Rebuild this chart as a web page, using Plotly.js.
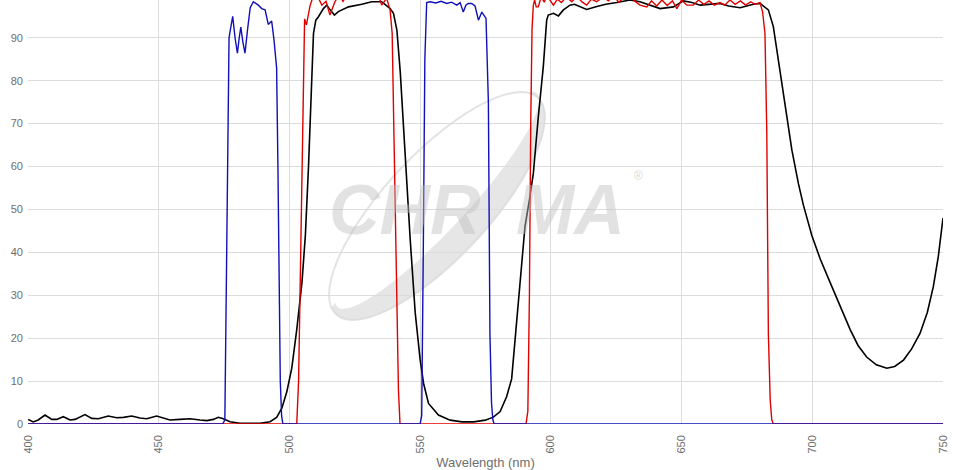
<!DOCTYPE html>
<html>
<head>
<meta charset="utf-8">
<script src="https://cdn.plot.ly/plotly-3.0.1.min.js"></script>
<style>
html,body{margin:0;padding:0;background:#fff;}
#chart{width:957px;height:470px;}
</style>
</head>
<body>
<div id="chart"></div>
<script>
// Wavelength (nm) / transmission (%) readings
var blueX = [400, 474.5, 475.3, 475.8, 476.3, 476.9, 477.3, 478.3, 479.2, 480.1, 480.8, 481.4, 482.2, 483.0, 484.0, 485.0, 486.2, 487.2, 488.1, 489.4, 490.7, 491.9, 493.2, 494.1, 495.1, 495.6, 496.0, 496.5, 497.0, 497.5, 550.0, 550.6, 551.2, 551.8, 552.5, 553.8, 556.0, 558.0, 560.2, 562.0, 564.0, 565.3, 566.5, 567.5, 568.4, 569.7, 571.0, 572.3, 573.6, 575.2, 576.1, 576.7, 577.3, 577.8, 578.3, 750];
var blueY = [0, 0, 1, 30, 70, 90, 91.5, 95, 90, 86.4, 90, 92.5, 89, 86.4, 92, 97, 98.4, 98, 97.6, 96.8, 96.5, 93.1, 93.9, 89.5, 83, 60, 30, 10, 2, 0, 0, 2, 40, 85, 98.2, 98.4, 98.1, 98.5, 98.0, 98.3, 97.6, 98.2, 96, 97.6, 98.0, 98.0, 97.4, 94.1, 96, 94.5, 75, 21, 5, 1, 0, 0];

var redX = [400, 502.8, 503.5, 504.5, 505.3, 505.8, 506.5, 507.9, 509.0, 510.5, 512.4, 514.0, 515.5, 517.4, 519.0, 520.5, 522.0, 524.0, 526.0, 528.0, 530.0, 532.0, 534.0, 535.3, 537.2, 538.5, 539.3, 540.0, 541.0, 541.7, 542.3, 590.5, 591.2, 591.8, 592.3, 592.8, 593.3, 593.8, 594.4, 595.2, 596.3, 597.5, 598.5, 600.0, 601.0, 602.5, 604.0, 606.0, 608.0, 610.0, 612.0, 613.7, 615.5, 617.5, 620.0, 622.0, 624.0, 626.0, 628.0, 630.0, 632.0, 634.1, 636.7, 638.5, 640.5, 642.5, 644.5, 646.5, 648.2, 650.0, 652.0, 654.5, 656.5, 658.5, 660.5, 662.5, 664.7, 666.5, 668.5, 670.5, 672.5, 674.5, 676.5, 678.0, 680.0, 681.0, 681.9, 682.6, 683.2, 683.9, 684.5, 685.1, 750];
var redY = [0, 0, 10, 50, 83, 94.4, 93, 97.5, 99.5, 100, 97.6, 98.5, 95.3, 98.4, 100, 98.5, 100, 99.2, 100.5, 99.3, 100.5, 99.5, 100, 97.6, 99.2, 96.5, 91, 68, 29, 8, 0, 0, 3, 30, 70, 92, 97.6, 98.8, 97.2, 97.2, 99.5, 98.3, 99.8, 98.5, 97.6, 99, 98.2, 99.5, 98.4, 99.6, 98.3, 97.6, 99, 98.4, 99.5, 98.6, 99.7, 98.3, 99.4, 99.8, 98.6, 97.6, 97.2, 98.6, 97.4, 98.8, 97.5, 98.6, 96.8, 98.8, 97.6, 97.6, 98.8, 97.8, 98.6, 97.6, 98.2, 97.6, 98.8, 97.8, 98.6, 97.6, 98.4, 97.8, 98.2, 96, 91, 67.8, 21, 5.6, 1, 0, 0];

var blackX = [400.1, 402.0, 403.9, 406.5, 409.1, 411.0, 413.5, 416.1, 418.0, 421.8, 424.4, 426.9, 430.7, 433.9, 436.5, 439.7, 442.8, 445.4, 449.2, 451.8, 454.3, 458.1, 462.0, 465.8, 468.4, 470.9, 472.8, 474.7, 477.3, 481.1, 485.0, 488.8, 492.6, 495.1, 497.1, 499.0, 500.9, 502.8, 504.8, 506.1, 507.3, 508.3, 508.8, 509.2, 510.1, 511.1, 513.0, 514.3, 515.6, 517.2, 518.7, 522.6, 527.7, 531.5, 535.3, 538.5, 539.8, 541.1, 542.4, 543.6, 544.9, 546.2, 548.1, 550.0, 551.3, 553.2, 557.0, 561.5, 566.0, 570.5, 574.9, 578.0, 580.6, 583.1, 585.0, 586.3, 588.2, 590.1, 591.8, 593.3, 595.2, 597.1, 598.4, 599.0, 601.0, 602.9, 604.8, 607.3, 609.0, 611.2, 613.7, 617.6, 621.0, 625.2, 630.3, 634.1, 638.0, 641.8, 646.9, 650.7, 654.0, 657.1, 664.7, 668.0, 672.4, 677.5, 680.0, 683.2, 685.1, 686.4, 688.3, 690.2, 692.2, 694.7, 696.6, 699.8, 703.0, 706.8, 710.6, 714.5, 717.5, 720.8, 724.5, 728.5, 731.5, 734.9, 738.0, 741.2, 744.0, 746.3, 748.2, 750.0];
var blackY = [1.08, 0.47, 0.93, 2.1, 1.08, 1.08, 1.71, 0.93, 1.08, 2.2, 1.32, 1.24, 1.86, 1.47, 1.55, 1.86, 1.40, 1.24, 1.86, 1.40, 0.93, 1.08, 1.24, 0.93, 0.78, 1.08, 1.55, 1.24, 0.54, 0.16, 0.1, 0.16, 0.54, 1.55, 3.7, 7.5, 13, 22, 33, 44, 60, 77, 87, 91, 94.1, 94.9, 96.8, 97.6, 96.5, 95.3, 96.1, 97.2, 97.8, 98.4, 98.4, 96.8, 95.7, 91.8, 82, 69, 56, 43, 26, 15, 9.5, 4.8, 2.1, 0.9, 0.5, 0.5, 0.9, 1.6, 2.9, 6.4, 10.5, 20, 34, 46, 52.2, 58.4, 71.6, 83.2, 94.1, 95.3, 95.7, 95.1, 96.5, 97.6, 97.8, 97.2, 96.6, 97.3, 97.8, 98.2, 98.8, 98.4, 97.6, 96.8, 97.2, 98.6, 98.2, 97.6, 98.0, 97.4, 97.0, 97.8, 98.0, 96.5, 92.6, 87.1, 79.4, 71.6, 63.8, 56.0, 51.0, 44.0, 38.5, 33.0, 27.5, 22.0, 18.3, 15.6, 13.8, 13.0, 13.4, 14.9, 17.5, 21.1, 26, 32, 39, 48];

var xTicks = [400, 450, 500, 550, 600, 650, 700, 750];
var yTicks = [0, 10, 20, 30, 40, 50, 60, 70, 80, 90];
var xTitle = 'Wavelength (nm)';

// --- watermark swoosh (decoration, pixel -> paper helpers) ---
var L = 28, T = 0, PW = 915, PH = 424;
function px(x){ return ((x - L) / PW).toFixed(4); }
function py(y){ return ((PH - y) / PH).toFixed(4); }
function ellipsePts(cx, cy, a, b, ang, t0, t1, n){
  var ux = Math.cos(ang), uy = -Math.sin(ang), vx = Math.sin(ang), vy = Math.cos(ang);
  var pts = [];
  for (var i = 0; i <= n; i++){
    var t = t0 + (t1 - t0) * i / n;
    pts.push([cx + a*Math.cos(t)*ux + b*Math.sin(t)*vx, cy + a*Math.cos(t)*uy + b*Math.sin(t)*vy]);
  }
  return pts;
}
function toPath(pts, close){
  var s = '';
  pts.forEach(function(p, i){ s += (i ? ' L' : 'M') + px(p[0]) + ',' + py(p[1]); });
  return s + (close ? ' Z' : '');
}
var ang = 47 * Math.PI / 180;
var ring = ellipsePts(437, 206, 148, 52, ang, 0, 2*Math.PI, 120);
var outer = ellipsePts(437, 206, 148, 52, ang, -0.15, Math.PI + 0.15, 80);
var inner = ellipsePts(437, 200, 146, 30, ang, Math.PI + 0.15, -0.15, 80);
var crescent = outer.concat(inner);

var traces = [
  {x: blackX, y: blackY, type: 'scatter', mode: 'lines', name: 'Dichroic',
   line: {color: '#000000', width: 1.6}, hoverinfo: 'x+y'},
  {x: redX, y: redY, type: 'scatter', mode: 'lines', name: 'Emission',
   line: {color: '#e00000', width: 1.4}, hoverinfo: 'x+y'},
  {x: blueX, y: blueY, type: 'scatter', mode: 'lines', name: 'Excitation',
   line: {color: '#1010b8', width: 1.4}, hoverinfo: 'x+y'}
];

var tickFont = {family: 'Liberation Sans, Arial, sans-serif', size: 11, color: '#6e6e6e'};
var wmFont = {family: 'Liberation Sans, Arial, sans-serif', size: 70, color: 'rgba(190,190,190,0.45)'};

var layout = {
  width: 957, height: 470,
  margin: {l: L, r: 14, t: T, b: 46, pad: 0},
  paper_bgcolor: '#ffffff', plot_bgcolor: '#ffffff',
  showlegend: false,
  xaxis: {
    range: [400, 750], tickvals: xTicks, ticktext: xTicks.map(String),
    tickangle: -90, tickfont: tickFont, showgrid: true, gridcolor: '#dcdcdc', gridwidth: 1,
    zeroline: false, showline: false, ticks: '', automargin: false, ticklabelstandoff: 8,
    title: {text: xTitle, font: {family: 'Liberation Sans, Arial, sans-serif', size: 13, color: '#6e6e6e'}, standoff: 20}
  },
  yaxis: {
    range: [0, 98.8], tickvals: yTicks, ticktext: yTicks.map(String),
    tickfont: tickFont, showgrid: true, gridcolor: '#dcdcdc', gridwidth: 1,
    zeroline: false, showline: false, ticks: '', automargin: false, ticklabelstandoff: 4
  },
  shapes: [
    {type: 'path', xref: 'paper', yref: 'paper', path: toPath(crescent, true), layer: 'below',
     fillcolor: 'rgba(200,200,200,0.45)', line: {width: 0}},
    {type: 'path', xref: 'paper', yref: 'paper', path: toPath(ring, true), layer: 'below',
     fillcolor: 'rgba(0,0,0,0)', line: {color: 'rgba(215,215,215,0.7)', width: 2}}
  ],
  annotations: [
    {xref: 'paper', yref: 'paper', x: px(405), y: py(210), text: '<b><i>CHR</i></b>', showarrow: false, font: wmFont},
    {xref: 'paper', yref: 'paper', x: px(571), y: py(210), text: '<b><i>MA</i></b>', showarrow: false, font: wmFont},
    {xref: 'paper', yref: 'paper', x: px(645), y: py(176), text: '®', showarrow: false,
     font: {family: 'Liberation Sans, Arial, sans-serif', size: 12, color: 'rgba(190,190,190,0.6)'}}
  ]
};

Plotly.newPlot('chart', traces, layout, {displayModeBar: false, staticPlot: true});
</script>
</body>
</html>
